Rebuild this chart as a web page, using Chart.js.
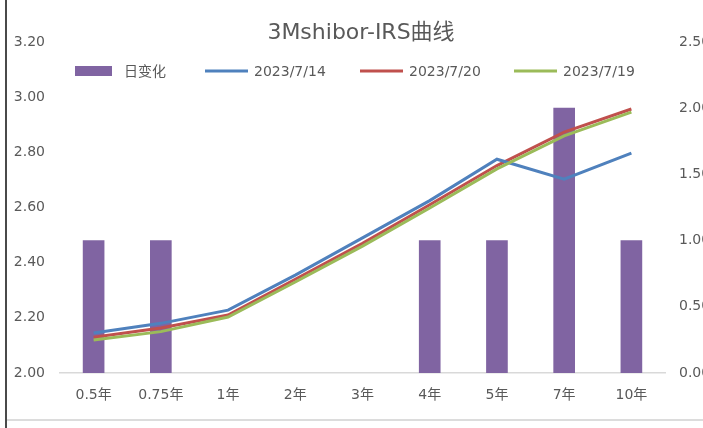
<!DOCTYPE html>
<html><head><meta charset="utf-8">
<script src="https://cdn.jsdelivr.net/npm/chart.js@4"></script>
<style>html,body{margin:0;padding:0;background:#fff;overflow:hidden}#wrap{position:relative;width:703px;height:428px}</style>
</head><body><div id="wrap"><canvas id="c" width="703" height="428"></canvas></div>
<script>
const chartTitle = '3Mshibor-IRS曲线';
const categories = ['0.5年','0.75年','1年','2年','3年','4年','5年','7年','10年'];
const seriesNames = ['日变化','2023/7/14','2023/7/20','2023/7/19'];
const dailyChange = [1,1,0,0,0,1,1,2,1];
const rates0714 = [2.145,2.180,2.228,2.355,2.490,2.625,2.775,2.703,2.797];
const rates0720 = [2.130,2.163,2.210,2.340,2.470,2.610,2.752,2.873,2.957];
const rates0719 = [2.120,2.150,2.203,2.330,2.460,2.598,2.740,2.860,2.946];
const leftMin = 2.0, leftMax = 3.2, leftStep = 0.2;
const rightMin = 0, rightMax = 2.5, rightStep = 0.5;

const TXT = '#595959';
const FONT = 'DejaVu Sans, "Noto Sans CJK SC", sans-serif';
const colors = ['#8064A2','#4F81BD','#C0504D','#9BBB59'];

const decor = {
  id: 'decor',
  beforeDraw(chart) {
    const ctx = chart.ctx;
    ctx.save();
    ctx.fillStyle = '#fff';
    ctx.fillRect(0, 0, chart.width, chart.height);
    ctx.fillStyle = '#4a4a4a';
    ctx.fillRect(5, 0, 2, chart.height);
    ctx.fillStyle = '#dcdcdc';
    ctx.fillRect(7, 419, chart.width - 7, 2);
    ctx.restore();
  },
  afterDraw(chart) {
    const ctx = chart.ctx;
    ctx.save();
    ctx.fillStyle = TXT;
    ctx.font = '22px ' + FONT;
    ctx.textAlign = 'center';
    ctx.textBaseline = 'middle';
    ctx.fillText(chartTitle, 361, 33);
    const xs = [75, 205, 360, 514];
    ctx.font = '14px ' + FONT;
    ctx.textAlign = 'left';
    chart.data.datasets.forEach((ds, i) => {
      const x = xs[i], y = 71;
      if (ds.type === 'bar') {
        ctx.fillStyle = colors[0];
        ctx.fillRect(x, y - 5, 37, 10);
      } else {
        ctx.strokeStyle = ds.borderColor;
        ctx.lineWidth = 3;
        ctx.beginPath(); ctx.moveTo(x, y); ctx.lineTo(x + 43, y); ctx.stroke();
      }
      ctx.fillStyle = TXT;
      ctx.fillText(ds.label, x + 49, y + 1);
    });
    ctx.restore();
  }
};

new Chart(document.getElementById('c'), {
  data: {
    labels: categories,
    datasets: [
      { type: 'bar', label: seriesNames[0], data: dailyChange, yAxisID: 'y1',
        backgroundColor: c => (c.raw === 0 ? 'rgba(0,0,0,0)' : colors[0]), borderWidth: 0, barThickness: 21, order: 2 },
      { type: 'line', label: seriesNames[1], data: rates0714, yAxisID: 'y', borderColor: colors[1], backgroundColor: colors[1], borderWidth: 3, pointRadius: 0, tension: 0, order: 1 },
      { type: 'line', label: seriesNames[2], data: rates0720, yAxisID: 'y', borderColor: colors[2], backgroundColor: colors[2], borderWidth: 3, pointRadius: 0, tension: 0, order: 1 },
      { type: 'line', label: seriesNames[3], data: rates0719, yAxisID: 'y', borderColor: colors[3], backgroundColor: colors[3], borderWidth: 3, pointRadius: 0, tension: 0, order: 0 }
    ]
  },
  options: {
    responsive: false,
    animation: false,
    devicePixelRatio: 1,
    layout: { padding: { top: 42, left: 0, right: 0, bottom: 0 } },
    plugins: { legend: { display: false }, title: { display: false }, tooltip: { enabled: false } },
    scales: {
      x: {
        grid: { display: false, drawTicks: false },
        border: { display: true, color: '#d9d9d9', width: 1.5 },
        ticks: { color: TXT, font: { family: FONT, size: 14 }, padding: 14, maxRotation: 0, autoSkip: false },
        afterFit: s => { s.height = 55; }
      },
      y: {
        position: 'left', min: leftMin, max: leftMax,
        grid: { display: false, drawTicks: false },
        border: { display: false },
        ticks: { stepSize: leftStep, color: TXT, font: { family: FONT, size: 14 }, padding: 15, callback: v => Number(v).toFixed(2) },
        afterFit: s => { s.width = 60; }
      },
      y1: {
        position: 'right', min: rightMin, max: rightMax,
        grid: { display: false, drawTicks: false },
        border: { display: false },
        ticks: { stepSize: rightStep, color: TXT, font: { family: FONT, size: 14 }, padding: 14, callback: v => Number(v).toFixed(2) },
        afterFit: s => { s.width = 38; }
      }
    }
  },
  plugins: [decor]
});
</script></body></html>
